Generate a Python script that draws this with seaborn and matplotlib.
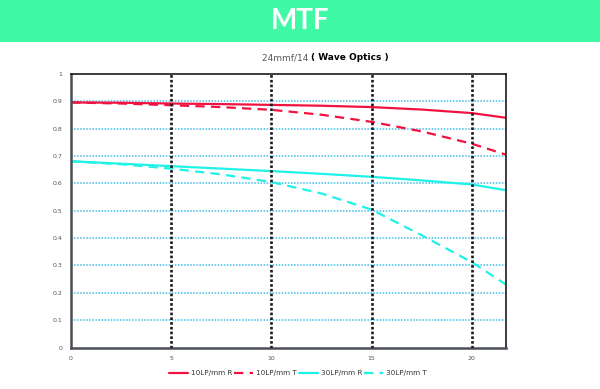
import matplotlib
matplotlib.use("Agg")
import matplotlib.pyplot as plt
import seaborn as sns
import pandas as pd

# Data
field = [0, 2.5, 5, 7.5, 10, 12.5, 15, 17.5, 20, 21.7]
lp10_R = [0.896, 0.895, 0.892, 0.890, 0.887, 0.884, 0.879, 0.870, 0.857, 0.840]
lp10_T = [0.896, 0.892, 0.886, 0.879, 0.869, 0.851, 0.825, 0.790, 0.745, 0.705]
lp30_R = [0.681, 0.672, 0.663, 0.654, 0.645, 0.635, 0.624, 0.611, 0.596, 0.575]
lp30_T = [0.681, 0.670, 0.654, 0.633, 0.605, 0.563, 0.504, 0.410, 0.312, 0.230]
series_names = ["10LP/mm R", "10LP/mm T", "30LP/mm R", "30LP/mm T"]
x_ticks = [0, 5, 10, 15, 20]
y_ticks = [0, 0.1, 0.2, 0.3, 0.4, 0.5, 0.6, 0.7, 0.8, 0.9, 1]
y_tick_labels = ["0", "0.1", "0.2", "0.3", "0.4", "0.5", "0.6", "0.7", "0.8", "0.9", "1"]

sns.set_style("white")
plt.rcParams['font.family'] = ['DejaVu Sans']

fig = plt.figure(figsize=(6, 3.89), dpi=100)

# Banner
bax = fig.add_axes([0, 1 - 42/389, 1, 42/389])
bax.set_facecolor("#40f9a4")
bax.set_xticks([]); bax.set_yticks([])
for s in bax.spines.values():
    s.set_visible(False)
bax.text(0.5, 0.5, "MTF", color="white", fontsize=20, fontweight="bold",
         family="Lato", ha="center", va="center", transform=bax.transAxes)

# Subtitle
fig.text(311/600, 1 - 58/389, "24mmf/14 ", color="#555555", fontsize=6.5, ha="right", va="center")
fig.text(311/600, 1 - 58/389, "( Wave Optics )", color="black", fontsize=6.5, fontweight="bold",
         ha="left", va="center")

ax = fig.add_axes([71/600, 1 - 347.5/389, (506 - 71)/600, (347.5 - 74)/389])

colors = ["#f2123f", "#f2123f", "#1ff2e6", "#1ff2e6"]
dashes = ["-", (0, (4.2, 2.8)), "-", (0, (4.2, 2.8))]
vals = [lp10_R, lp10_T, lp30_R, lp30_T]
for name, v, c, d in zip(series_names, vals, colors, dashes):
    df = pd.DataFrame({"x": field, "y": v})
    sns.lineplot(data=df, x="x", y="y", ax=ax, color=c, linewidth=1.6, label=name)
    ax.lines[-1].set_linestyle(d)

for yv in y_ticks[1:-1]:
    ax.axhline(yv, color="#3fbfea", linestyle=(0, (1, 1)), linewidth=1.1, zorder=1)
for xv in x_ticks[1:]:
    ax.axvline(xv, color="#1a1a1a", linestyle=(0, (1, 0.8)), linewidth=1.9, zorder=3)

ax.set_xlim(0, 21.7)
ax.set_ylim(0, 1)
ax.set_xticks(x_ticks)
ax.set_yticks(y_ticks)
ax.set_yticklabels(y_tick_labels)
ax.tick_params(axis="both", length=0, labelsize=4.5, labelcolor="#555555", pad=6)
ax.set_xlabel(""); ax.set_ylabel("")
for side in ["left", "bottom"]:
    ax.spines[side].set_color("#4a4f55")
    ax.spines[side].set_linewidth(1.8)
for side in ["top", "right"]:
    ax.spines[side].set_color("#1a1a1a")
    ax.spines[side].set_linewidth(1.2)

leg = ax.legend(loc="center", bbox_to_anchor=(298/600, 1 - 373/389), bbox_transform=fig.transFigure,
                ncol=4, frameon=False, fontsize=5.2, handlelength=2.6, columnspacing=0.3,
                handletextpad=0.4, labelcolor="#333333")

fig.savefig("out.png", dpi=100)
